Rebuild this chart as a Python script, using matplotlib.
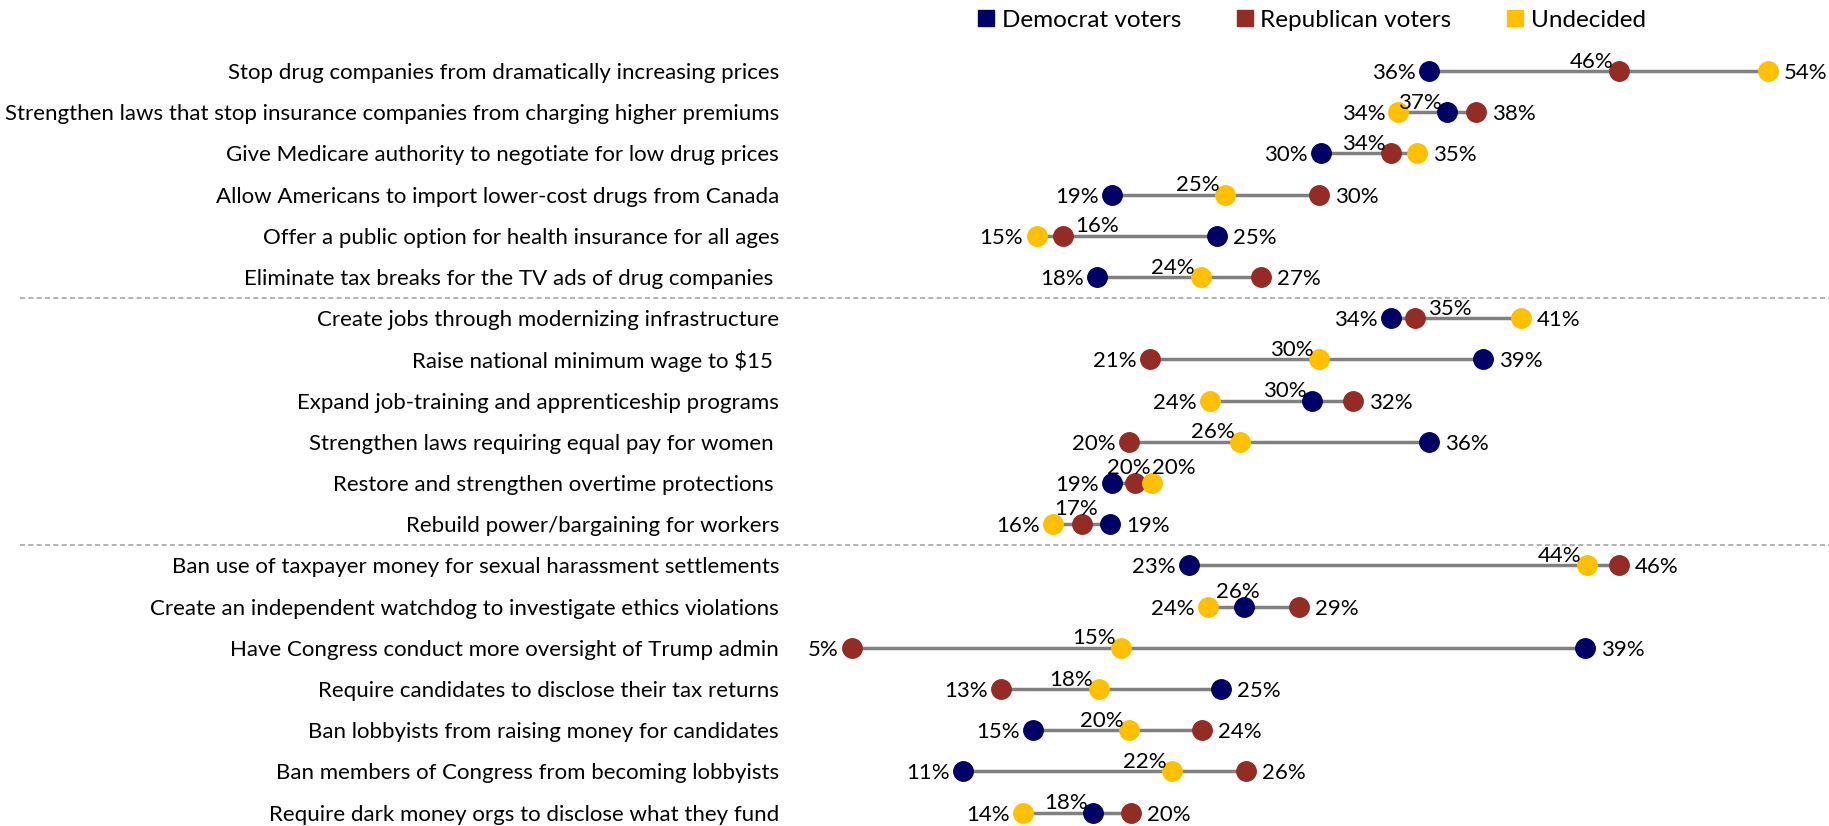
import matplotlib
matplotlib.use('Agg')
import matplotlib.pyplot as plt
from matplotlib.lines import Line2D

plt.rcParams['font.family'] = ['Lato', 'DejaVu Sans']

# Policy items, top to bottom
categories = [
    'Stop drug companies from dramatically increasing prices',
    'Strengthen laws that stop insurance companies from charging higher premiums',
    'Give Medicare authority to negotiate for low drug prices',
    'Allow Americans to import lower-cost drugs from Canada',
    'Offer a public option for health insurance for all ages',
    'Eliminate tax breaks for the TV ads of drug companies ',
    'Create jobs through modernizing infrastructure',
    'Raise national minimum wage to $15 ',
    'Expand job-training and apprenticeship programs',
    'Strengthen laws requiring equal pay for women ',
    'Restore and strengthen overtime protections ',
    'Rebuild power/bargaining for workers',
    'Ban use of taxpayer money for sexual harassment settlements',
    'Create an independent watchdog to investigate ethics violations',
    'Have Congress conduct more oversight of Trump admin',
    'Require candidates to disclose their tax returns',
    'Ban lobbyists from raising money for candidates',
    'Ban members of Congress from becoming lobbyists',
    'Require dark money orgs to disclose what they fund',
]

# dot positions as drawn (percent)
dem = [36.0, 37.0, 30.3, 19.2, 24.8, 18.4, 34.0, 38.9, 29.8, 36.0, 19.2, 19.1, 23.3, 26.2, 44.3, 25.0, 15.0, 11.3, 18.2]
rep = [46.1, 38.5, 34.0, 30.2, 16.6, 27.1, 35.3, 21.2, 32.0, 20.1, 20.4, 17.6, 46.1, 29.1, 5.4, 13.3, 24.0, 26.3, 20.2]
und = [54.0, 34.4, 35.4, 25.2, 15.2, 23.9, 40.9, 30.2, 24.4, 26.0, 21.3, 16.1, 44.4, 24.3, 19.7, 18.5, 20.1, 22.4, 14.5]

# data labels as printed
dem_lbl = [36, 37, 30, 19, 25, 18, 34, 39, 30, 36, 19, 19, 23, 26, 39, 25, 15, 11, 18]
rep_lbl = [46, 38, 34, 30, 16, 27, 35, 21, 32, 20, 20, 17, 46, 29, 5, 13, 24, 26, 20]
und_lbl = [54, 34, 35, 25, 15, 24, 41, 30, 24, 26, 20, 16, 44, 24, 15, 18, 20, 22, 14]

series = ['Democrat voters', 'Republican voters', 'Undecided']
colors = ['#000066', '#932C24', '#FFC000']
separators = [5.5, 11.5]

fs = 16

fig = plt.figure(figsize=(18.29, 8.26), dpi=100)
ax = fig.add_axes([818 / 1829, 0, 1 - 818 / 1829, 1])

vals = [dem, rep, und]
lbls = [dem_lbl, rep_lbl, und_lbl]

for i in range(len(categories)):
    row = [vals[k][i] for k in range(3)]
    ax.plot([min(row), max(row)], [i, i], color='#808080', lw=2.5, zorder=1, solid_capstyle='butt')
    for k in range(3):
        ax.plot(row[k], i, 'o', ms=14, color=colors[k], mec=colors[k], zorder=3, clip_on=False)

    order = sorted(range(3), key=lambda k: row[k])
    lo, mid, hi = order
    gap_l = row[mid] - row[lo]
    gap_r = row[hi] - row[mid]

    # left label
    ax.annotate(f'{lbls[lo][i]}%', (row[lo], i), xytext=(-9.5, -1.5), textcoords='offset points',
                ha='right', va='center', fontsize=fs, annotation_clip=False)
    # right label
    if gap_r < 1:
        ax.annotate(f'{lbls[hi][i]}%', (row[hi], i), xytext=(0, 6.5), textcoords='offset points',
                    ha='left', va='baseline', fontsize=fs, annotation_clip=False)
    else:
        ax.annotate(f'{lbls[hi][i]}%', (row[hi], i), xytext=(11.5, -1.5), textcoords='offset points',
                    ha='left', va='center', fontsize=fs, annotation_clip=False)
    # middle label, above the dot
    if gap_l < 2 and gap_r > 3:
        ha, dx, dy = 'left', 9, 2.5
    elif gap_l < 2:
        ha, dx, dy = 'center', -4, 6.5
    else:
        ha, dx, dy = 'right', -4, 2.5
    ax.annotate(f'{lbls[mid][i]}%', (row[mid], i), xytext=(dx, dy), textcoords='offset points',
                ha=ha, va='baseline', fontsize=fs, annotation_clip=False)

for s in separators:
    ax.axhline(s, xmin=(20 - 818) / 1011, xmax=1, color='#a6a6a6', lw=1.2,
               ls=(0, (3, 2)), clip_on=False)

ax.set_xlim((818 - 750) / 18.85, (1829 - 750) / 18.85)
ax.set_ylim((826 - 71) / 41.2, -71 / 41.2)
ax.set_yticks(range(len(categories)))
ax.set_yticklabels(categories, fontsize=fs)
ax.tick_params(axis='y', length=0, pad=28)
ax.set_xticks([])
for sp in ax.spines.values():
    sp.set_visible(False)

handles = [Line2D([], [], ls='none', marker='s', ms=11, color=c) for c in colors]
fig.legend(handles, series, loc='center', bbox_to_anchor=(1311 / 1829, 1 - 20 / 826),
           ncol=3, frameon=False, fontsize=17.5, handlelength=0.8, handletextpad=0.25,
           columnspacing=2.2, borderaxespad=0, borderpad=0)

fig.savefig('out.png', dpi=100)
